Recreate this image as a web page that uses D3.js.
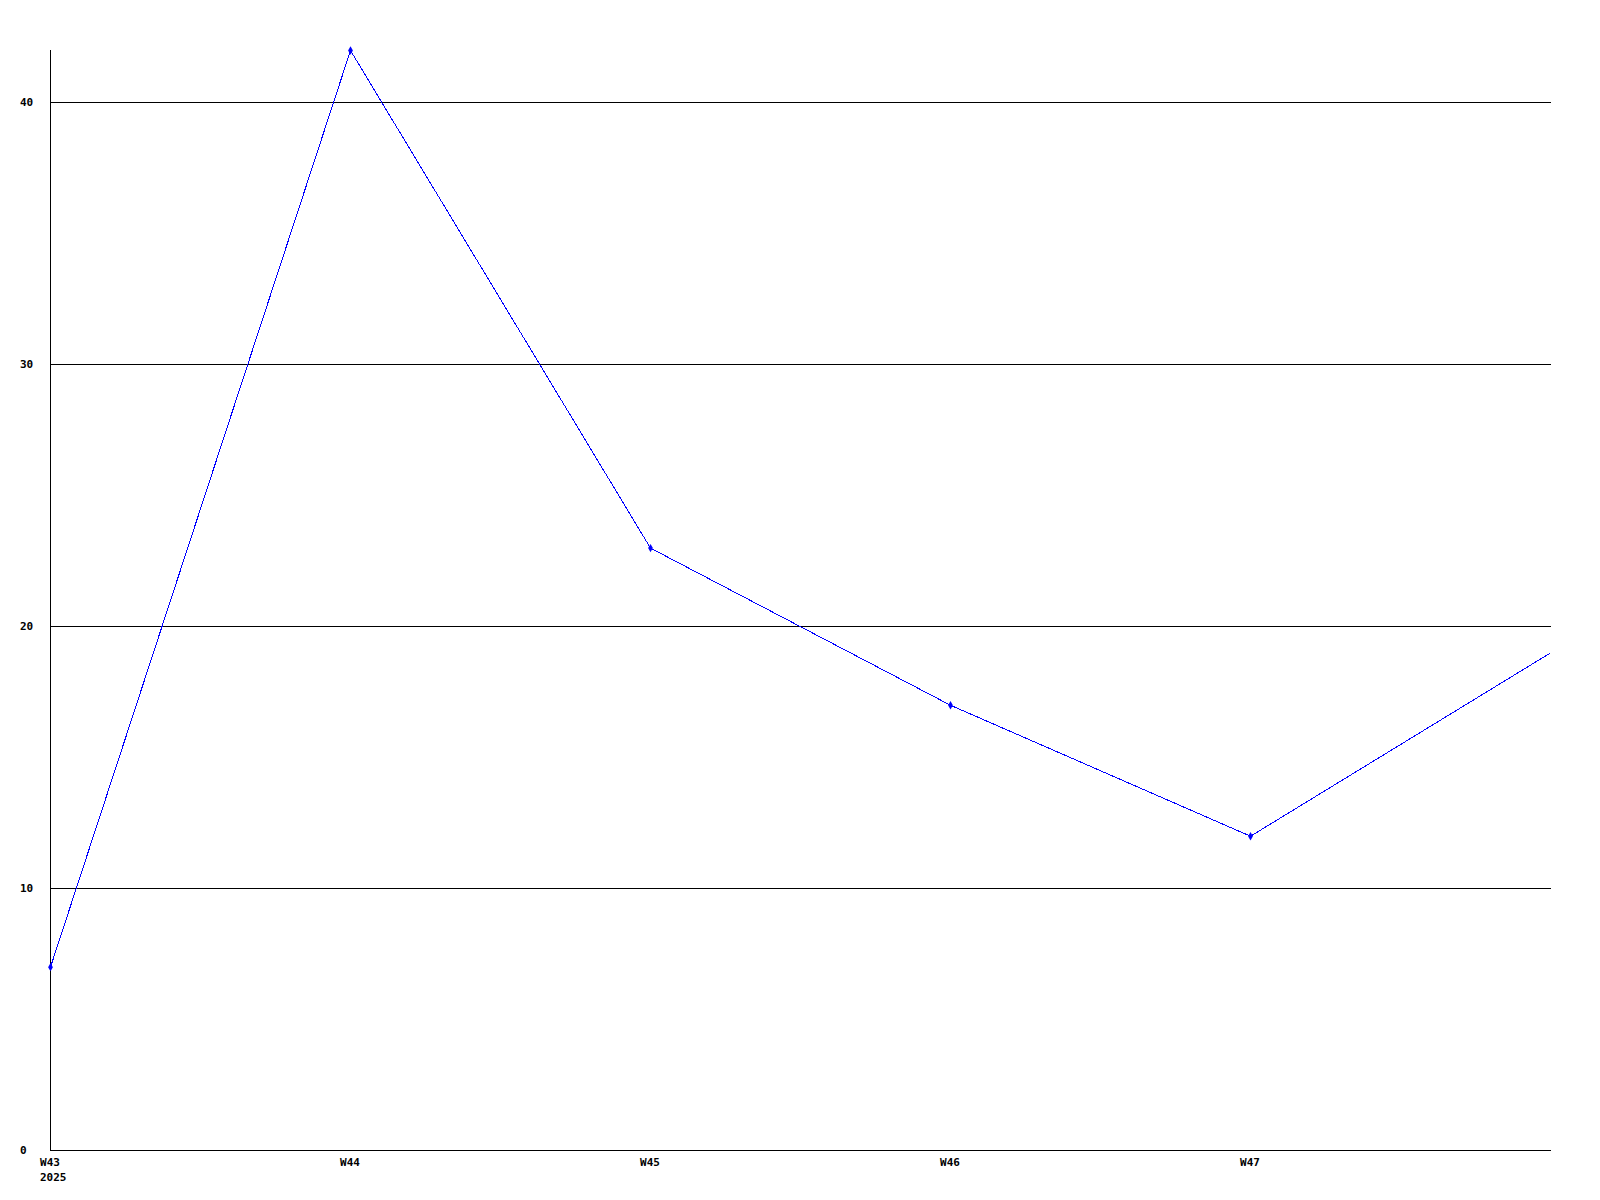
<!DOCTYPE html>
<html><head><meta charset="utf-8">
<script src="https://cdn.jsdelivr.net/npm/d3@7"></script>
<style>body{margin:0;background:#fff}svg{display:block}text{font-family:"DejaVu Sans Mono",monospace;font-weight:bold;font-size:11px;fill:#000}</style>
</head><body>
<svg id="c" width="1600" height="1200"></svg>
<script>
const weeks = ["W43","W44","W45","W46","W47","W48"];
const values = [7,42,23,17,12,19];
const weekLabels = ["W43","W44","W45","W46","W47"];
const yearLabel = "2025";
const yTicks = [0,10,20,30,40];
const yMax = 42;

const svg = d3.select("#c");
const L = 50, R = 1551, T = 50, B = 1150;
const x = d3.scalePoint().domain(weeks).range([L, 1550]);
const y = d3.scaleLinear().domain([0, yMax]).range([B, T]);

// gridlines
svg.append("g").selectAll("line").data(yTicks.filter(d => d > 0)).join("line")
  .attr("x1", L).attr("x2", R)
  .attr("y1", d => Math.round(y(d)) + 0.5).attr("y2", d => Math.round(y(d)) + 0.5)
  .attr("stroke", "#000").attr("stroke-width", 1).attr("shape-rendering", "crispEdges");

// axes
svg.append("line").attr("x1", L + 0.5).attr("x2", L + 0.5).attr("y1", T).attr("y2", B + 1)
  .attr("stroke", "#000").attr("shape-rendering", "crispEdges");
svg.append("line").attr("x1", L).attr("x2", R).attr("y1", B + 0.5).attr("y2", B + 0.5)
  .attr("stroke", "#000").attr("shape-rendering", "crispEdges");

// y labels
svg.append("g").selectAll("text").data(yTicks).join("text")
  .attr("x", 20).attr("y", d => y(d)).attr("dy", "0.35em").text(d => d);

// x labels
svg.append("g").selectAll("text").data(weekLabels).join("text")
  .attr("x", d => x(d)).attr("y", 1162).attr("dy", "0.35em").attr("text-anchor", "middle").text(d => d);
svg.append("text").attr("x", 40).attr("y", 1177).attr("dy", "0.35em").text(yearLabel);

// line
svg.append("clipPath").attr("id", "pc").append("rect")
  .attr("x", L).attr("y", 0).attr("width", R - L).attr("height", B);
const pts = weeks.map((w, i) => [w, values[i]]);
svg.append("path").datum(pts)
  .attr("clip-path", "url(#pc)")
  .attr("d", d3.line().x(d => x(d[0]) + 0.5).y(d => y(d[1]) + 0.5))
  .attr("fill", "none").attr("stroke", "#0000ff").attr("stroke-width", 1)
  .attr("shape-rendering", "crispEdges");

// markers
svg.append("g").selectAll("path").data(pts.filter(d => weekLabels.includes(d[0]))).join("path")
  .attr("transform", d => `translate(${x(d[0]) + 0.5},${y(d[1]) + 0.5})`)
  .attr("d", d3.symbol().type(d3.symbolDiamond).size(20))
  .attr("fill", "#0000ff");
</script>
</body></html>
